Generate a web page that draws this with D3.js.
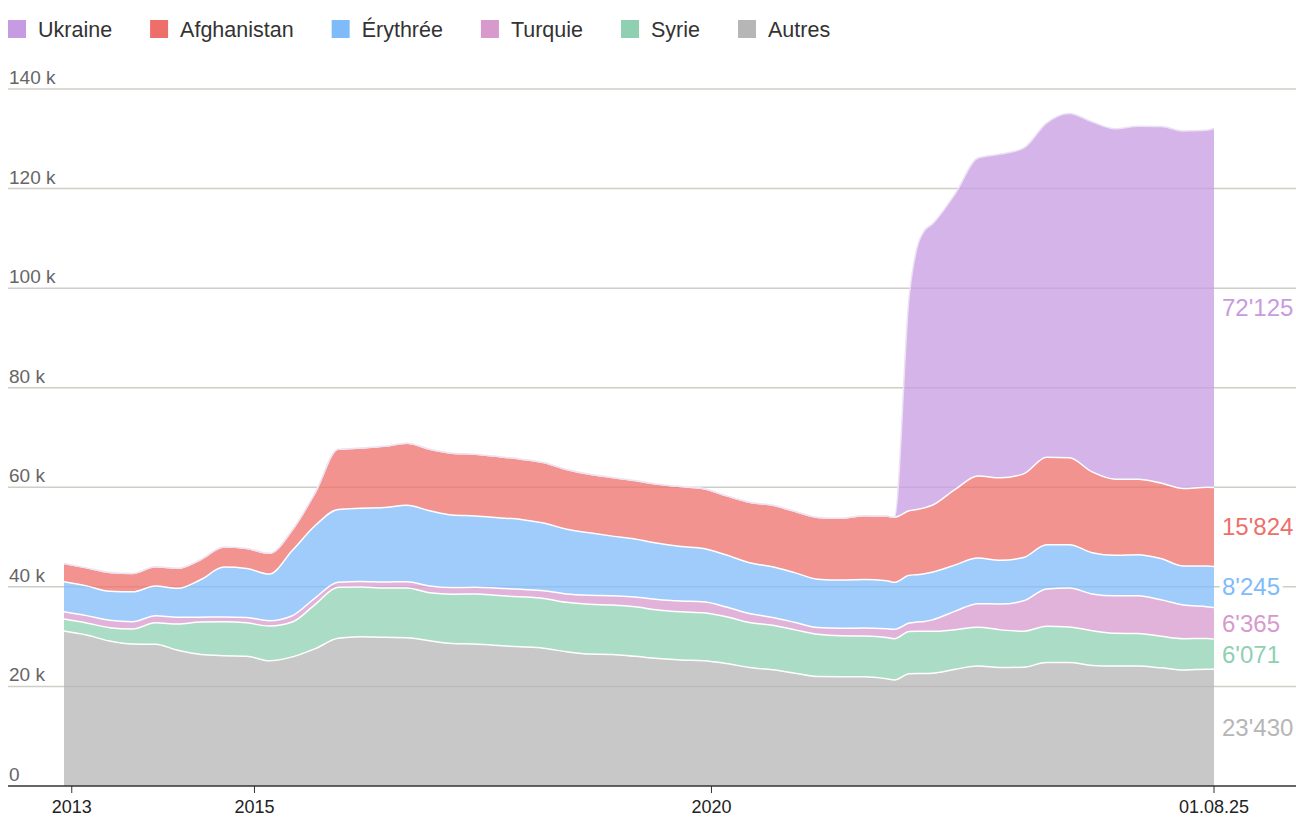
<!DOCTYPE html>
<html>
<head>
<meta charset="utf-8">
<script src="https://cdn.jsdelivr.net/npm/d3@7"></script>
<style>
  body { margin: 0; background: #fff; font-family: "Liberation Sans", Arial, Helvetica, sans-serif; }
  svg { display: block; }
</style>
</head>
<body>
<div id="chart"></div>
<script>
// dates des relevés (trimestriels, mensuels autour de mars 2022)
const dates = [
  "2012-12", "2013-03", "2013-06", "2013-09", "2013-12", "2014-03", "2014-06", "2014-09", "2014-12",
  "2015-03", "2015-06", "2015-09", "2015-12", "2016-03", "2016-06", "2016-09", "2016-12",
  "2017-03", "2017-06", "2017-09", "2017-12", "2018-03", "2018-06", "2018-09", "2018-12",
  "2019-03", "2019-06", "2019-09", "2019-12", "2020-03", "2020-06", "2020-09", "2020-12",
  "2021-03", "2021-06", "2021-09", "2021-12", "2022-01", "2022-03", "2022-04", "2022-05", "2022-06",
  "2022-09", "2022-12", "2023-03", "2023-06", "2023-09", "2023-12", "2024-03", "2024-06",
  "2024-09", "2024-12", "2025-03", "2025-06", "2025-07"
];

const autres = [
  31120, 30320, 29120, 28510, 28470, 27270, 26430, 26180, 26080,
  25160, 25940, 27590, 29680, 30000, 29860, 29800, 29180,
  28630, 28530, 28210, 27970, 27670, 26970, 26490, 26410,
  26040, 25620, 25320, 25160, 24600, 23820, 23350, 22650,
  21970, 21950, 21950, 21550, 21310, 22570, 22610, 22610, 22650,
  23450, 24080, 23790, 23860, 24800, 24800, 24220, 24100,
  24100, 23750, 23310, 23470, 23430
];
const syrie = [
  2410, 2430, 2690, 3010, 4320, 5260, 6490, 6790, 6690,
  6970, 6990, 8900, 10220, 9980, 9900, 9980, 9640,
  9900, 10060, 10040, 10040, 10000, 9920, 10020, 9940,
  9960, 9740, 9660, 9620, 9380, 9020, 8920, 8710,
  8490, 8210, 8170, 8270, 8270, 8450, 8450, 8450, 8410,
  7950, 7830, 7570, 7230, 7290, 7130, 6970, 6570,
  6530, 6330, 6290, 6140, 6071
];
const turquie = [
  1470, 1470, 1470, 1470, 1410, 1350, 1000, 1000, 1080,
  1060, 1270, 1310, 1020, 1100, 1220, 1270, 1350,
  1330, 1330, 1470, 1490, 1570, 1670, 1790, 1870,
  1950, 2110, 2190, 2210, 1970, 1790, 1590, 1490,
  1370, 1510, 1630, 1770, 1910, 1700, 1870, 1990, 2310,
  3730, 4720, 5180, 6100, 7490, 7830, 7390, 7530,
  7570, 7310, 6750, 6410, 6365
];
const erythree = [
  6020, 5980, 5840, 6020, 5960, 5820, 7550, 10000, 9840,
  9380, 13090, 14520, 14640, 14700, 14940, 15340, 15120,
  14560, 14320, 14180, 14040, 13570, 13030, 12550, 11970,
  11670, 11270, 10940, 10720, 10440, 10220, 10180, 9960,
  9720, 9700, 9740, 9660, 9420, 9600, 9520, 9580, 9560,
  9280, 9160, 8800, 8710, 8880, 8710, 8270, 8130,
  8270, 8290, 7850, 8190, 8245
];
const afghanistan = [
  3690, 3610, 3780, 3690, 3880, 4020, 4020, 4040, 4020,
  4160, 4120, 6630, 12070, 12110, 12310, 12450, 12350,
  12430, 12390, 12270, 12110, 12150, 11990, 11750, 11770,
  11730, 11850, 12030, 12010, 11890, 12150, 12350, 12330,
  12390, 12390, 12790, 12970, 13050, 12950, 13070, 13230, 13450,
  15160, 16470, 16570, 16790, 17570, 17450, 16240, 15300,
  15120, 15160, 15560, 15780, 15824
];
const ukraine = [
  0, 0, 0, 0, 0, 0, 0, 0, 0,
  0, 0, 0, 0, 0, 0, 0, 0,
  0, 0, 0, 0, 0, 0, 0, 0,
  0, 0, 0, 0, 0, 0, 0, 0,
  0, 0, 0, 0, 0, 43070, 52510, 55680, 56470,
  59400, 63880, 65020, 65420, 67130, 69160, 70300, 70380,
  70940, 71630, 71810, 71730, 72125
];

// ordre d'empilement (du bas vers le haut) et ordre de la légende
const stackKeys = ["Autres", "Syrie", "Turquie", "Érythrée", "Afghanistan", "Ukraine"];
const legendKeys = ["Ukraine", "Afghanistan", "Érythrée", "Turquie", "Syrie", "Autres"];
const colors = {
  Ukraine: "#c79be1",
  Afghanistan: "#ee6f6a",
  "Érythrée": "#7fbbf9",
  Turquie: "#d899cd",
  Syrie: "#8fd0b3",
  Autres: "#b6b6b6",
};

const yTicks = [0, 20000, 40000, 60000, 80000, 100000, 120000, 140000];
const xTickDates = ["2013-01", "2015-01", "2020-01", "2025-07"];
const xTickLabels = ["2013", "2015", "2020", "01.08.25"];

const width = 1296;
const height = 817;
const margins = { top: 89, right: 82, bottom: 31, left: 64 };

const parse = d3.timeParse("%Y-%m");
const seriesByKey = {
  Autres: autres,
  Syrie: syrie,
  Turquie: turquie,
  "Érythrée": erythree,
  Afghanistan: afghanistan,
  Ukraine: ukraine,
};
const rows = dates.map((d, i) => {
  const row = { date: parse(d) };
  stackKeys.forEach((k) => (row[k] = seriesByKey[k][i]));
  return row;
});

const stacked = d3.stack().keys(stackKeys)(rows);

const x = d3
  .scaleTime()
  .domain(d3.extent(rows, (d) => d.date))
  .range([margins.left, width - margins.right]);
const y = d3
  .scaleLinear()
  .domain([0, 140000])
  .range([height - margins.bottom, margins.top]);

const svg = d3
  .select("#chart")
  .append("svg")
  .attr("width", width)
  .attr("height", height);

// grille horizontale (sous les aires)
const grid = svg.append("g");
grid
  .selectAll("line")
  .data(yTicks.filter((t) => t > 0))
  .join("line")
  .attr("x1", 8)
  .attr("x2", width)
  .attr("y1", (d) => y(d))
  .attr("y2", (d) => y(d))
  .attr("stroke", "#cfcec6")
  .attr("stroke-width", 1.5);

const area = d3
  .area()
  .x((d) => x(d.data.date))
  .y0((d) => y(d[0]))
  .y1((d) => y(d[1]))
  .curve(d3.curveMonotoneX);

const topLine = d3
  .line()
  .x((d) => x(d.data.date))
  .y((d) => y(d[1]))
  .curve(d3.curveMonotoneX);

svg
  .append("g")
  .selectAll("path")
  .data(stacked)
  .join("path")
  .attr("d", area)
  .attr("fill", (d) => colors[d.key])
  .attr("fill-opacity", 0.75);

svg
  .append("g")
  .selectAll("path")
  .data(stacked)
  .join("path")
  .attr("d", topLine)
  .attr("fill", "none")
  .attr("stroke", (d) => (d.key === "Ukraine" ? "#ece2f4" : "#fff"))
  .attr("stroke-width", 1.5);

// étiquettes de l'axe y
svg
  .append("g")
  .selectAll("text")
  .data(yTicks)
  .join("text")
  .attr("x", 9)
  .attr("y", (d) => y(d) - 5)
  .attr("font-size", 19)
  .attr("fill", "#666")
  .text((d) => (d === 0 ? "0" : d / 1000 + " k"));

// axe x
const axis = svg.append("g");
axis
  .append("line")
  .attr("x1", 8)
  .attr("x2", width)
  .attr("y1", y(0))
  .attr("y2", y(0))
  .attr("stroke", "#333")
  .attr("stroke-width", 1.5);

const ticks = axis
  .selectAll("g.tick")
  .data(xTickDates)
  .join("g")
  .attr("class", "tick")
  .attr("transform", (d) => `translate(${x(parse(d))},${y(0)})`);
ticks.append("line").attr("y2", 7).attr("stroke", "#333").attr("stroke-width", 1);
ticks
  .append("text")
  .attr("y", 27)
  .attr("text-anchor", "middle")
  .attr("font-size", 18)
  .attr("fill", "#222")
  .text((d, i) => xTickLabels[i]);

// valeurs finales à droite
const fmt = (v) => d3.format(",")(v).replace(/,/g, "'");
const last = rows.length - 1;
svg
  .append("g")
  .selectAll("text")
  .data(stacked)
  .join("text")
  .attr("x", x(rows[last].date) + 8)
  .attr("y", (d) => (y(d[last][0]) + y(d[last][1])) / 2)
  .attr("dy", "0.35em")
  .attr("font-size", 24)
  .attr("fill", (d) => colors[d.key])
  .attr("stroke", "#fff")
  .attr("stroke-width", 8)
  .attr("paint-order", "stroke")
  .text((d) => fmt(d[last].data[d.key]));

// légende
const legend = svg.append("g");
let lx = 8;
legendKeys.forEach((k) => {
  const item = legend.append("g").attr("transform", `translate(${lx},0)`);
  item
    .append("rect")
    .attr("y", 20)
    .attr("width", 18)
    .attr("height", 18)
    .attr("fill", colors[k]);
  const t = item
    .append("text")
    .attr("x", 30)
    .attr("y", 37)
    .attr("font-size", 21.5)
    .attr("fill", "#333")
    .text(k);
  lx += 30 + t.node().getComputedTextLength() + 38;
});
</script>
</body>
</html>
